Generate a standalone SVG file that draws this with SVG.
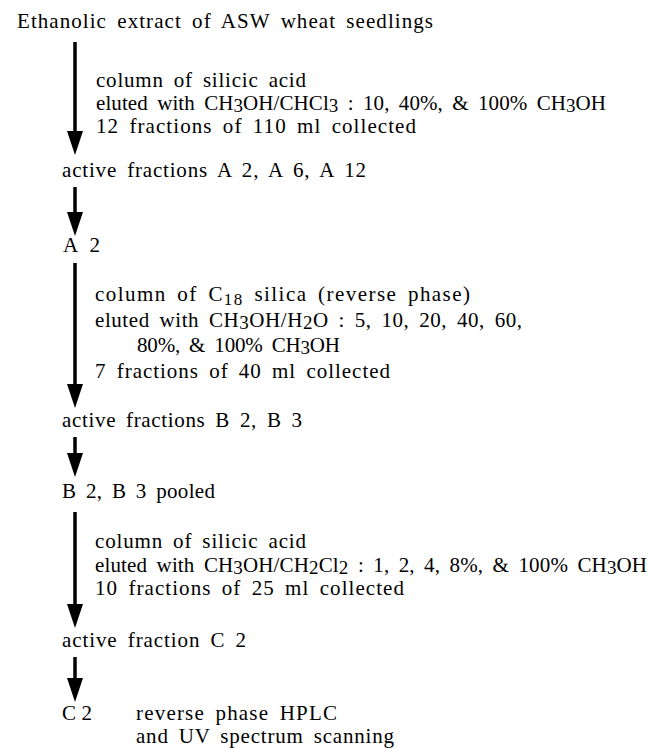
<svg xmlns="http://www.w3.org/2000/svg" width="648" height="748" viewBox="0 0 648 748">
<style>
text{font-family:"Liberation Serif","Times New Roman",serif;font-size:21px;fill:#000;word-spacing:4px}
.s{font-size:17px}
.b{font-size:19px}
.ar{stroke:#000;stroke-width:3.5;fill:none}
</style>
<defs>
<marker id="ah" markerUnits="userSpaceOnUse" viewBox="0 0 24 16" refX="0" refY="8" markerWidth="24" markerHeight="16" orient="auto">
<path d="M0,0 L24,8 L0,16 z" fill="#000"/>
</marker>
</defs>
<rect width="648" height="748" fill="#fff"/>
<g id="connectors">
<line class="ar" x1="75" y1="42" x2="75" y2="131" marker-end="url(#ah)"/>
<line class="ar" x1="75" y1="187" x2="75" y2="212" marker-end="url(#ah)"/>
<line class="ar" x1="75" y1="263" x2="75" y2="384" marker-end="url(#ah)"/>
<line class="ar" x1="75" y1="437" x2="75" y2="453" marker-end="url(#ah)"/>
<line class="ar" x1="75" y1="512" x2="75" y2="604" marker-end="url(#ah)"/>
<line class="ar" x1="75" y1="657" x2="75" y2="678" marker-end="url(#ah)"/>
</g>
<g id="n1"><text x="17" y="28" textLength="416" lengthAdjust="spacing">Ethanolic extract of ASW wheat seedlings</text></g>
<g id="step1">
<text x="96" y="87" textLength="210" lengthAdjust="spacing">column of silicic acid</text>
<text x="96" y="110" textLength="510" lengthAdjust="spacing">eluted with CH<tspan class="b" dy="2">3</tspan><tspan dy="-2">OH/CHCl</tspan><tspan class="b" dy="2">3</tspan><tspan dy="-2"> : 10, 40%, &amp; 100% CH</tspan><tspan class="b" dy="2">3</tspan><tspan dy="-2">OH</tspan></text>
<text x="96" y="133" textLength="320" lengthAdjust="spacing">12 fractions of 110 ml collected</text>
</g>
<g id="n2"><text x="62" y="177" textLength="304" lengthAdjust="spacing">active fractions A 2, A 6, A 12</text></g>
<g id="n3"><text x="63" y="252" textLength="37" lengthAdjust="spacing">A 2</text></g>
<g id="step2">
<text x="95" y="301" textLength="375" lengthAdjust="spacing">column of C<tspan class="s" dy="4">18</tspan><tspan dy="-4"> silica (reverse phase)</tspan></text>
<text x="95" y="327" textLength="427" lengthAdjust="spacing">eluted with CH<tspan class="b" dy="2">3</tspan><tspan dy="-2">OH/H</tspan><tspan class="b" dy="2">2</tspan><tspan dy="-2">O : 5, 10, 20, 40, 60,</tspan></text>
<text x="137" y="352" textLength="203" lengthAdjust="spacing">80%, &amp; 100% CH<tspan class="b" dy="2">3</tspan><tspan dy="-2">OH</tspan></text>
<text x="95" y="378" textLength="295" lengthAdjust="spacing">7 fractions of 40 ml collected</text>
</g>
<g id="n4"><text x="62" y="427" textLength="240" lengthAdjust="spacing">active fractions B 2, B 3</text></g>
<g id="n5"><text x="62" y="498" textLength="153" lengthAdjust="spacing">B 2, B 3 pooled</text></g>
<g id="step3">
<text x="95" y="548" textLength="211" lengthAdjust="spacing">column of silicic acid</text>
<text x="95" y="572" textLength="552" lengthAdjust="spacing">eluted with CH<tspan class="b" dy="2">3</tspan><tspan dy="-2">OH/CH</tspan><tspan class="b" dy="2">2</tspan><tspan dy="-2">Cl</tspan><tspan class="b" dy="2">2</tspan><tspan dy="-2"> : 1, 2, 4, 8%, &amp; 100% CH</tspan><tspan class="b" dy="2">3</tspan><tspan dy="-2">OH</tspan></text>
<text x="95" y="595" textLength="309" lengthAdjust="spacing">10 fractions of 25 ml collected</text>
</g>
<g id="n6"><text x="62" y="647" textLength="184" lengthAdjust="spacing">active fraction C 2</text></g>
<g id="n7">
<text x="62" y="720" textLength="30" lengthAdjust="spacing">C 2</text>
<text x="136" y="720" textLength="201" lengthAdjust="spacing">reverse phase HPLC</text>
<text x="136" y="743" textLength="258" lengthAdjust="spacing">and UV spectrum scanning</text>
</g>
</svg>
